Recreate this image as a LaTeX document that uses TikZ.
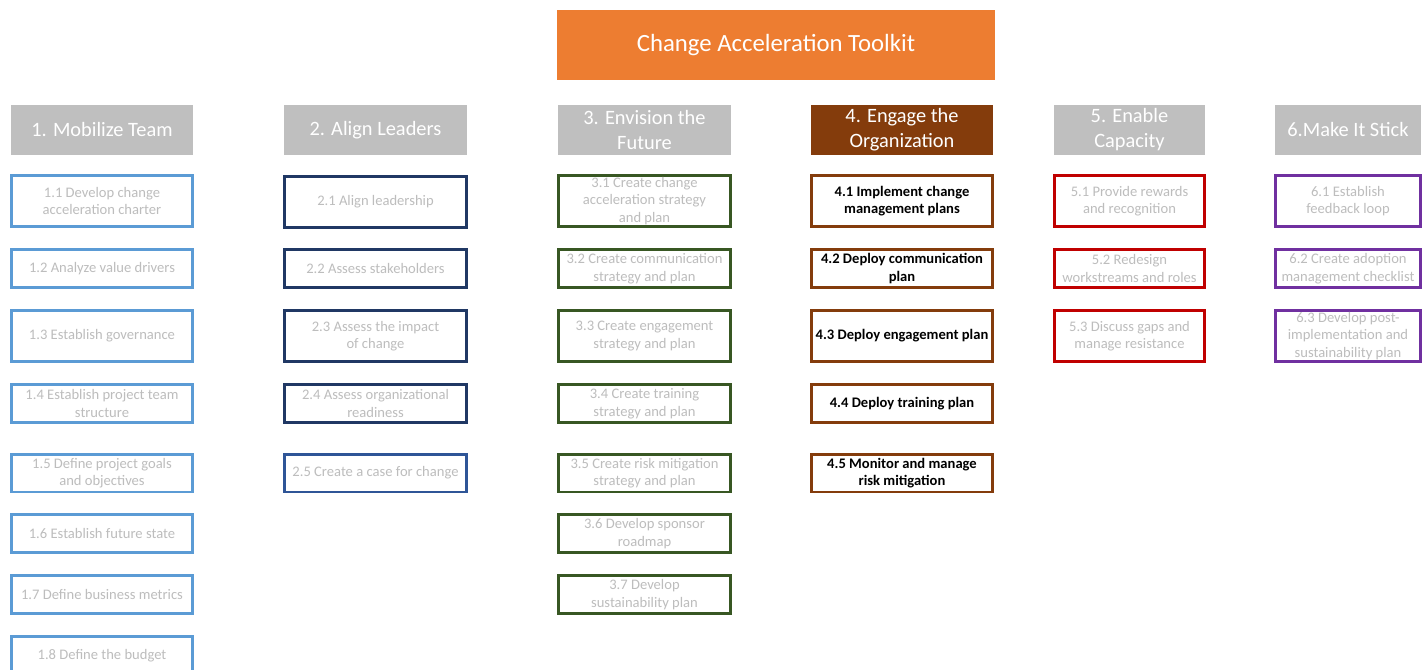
\documentclass[tikz,border=0pt]{standalone}
\usepackage{fontspec}
\setmainfont{Carlito}
\definecolor{toolorange}{HTML}{ED7D31}
\definecolor{phasegray}{HTML}{BFBFBF}
\definecolor{taskgray}{HTML}{BDBDBD}
\definecolor{engagebrown}{HTML}{843C0C}
\definecolor{mobblue}{HTML}{5B9BD5}
\definecolor{leadblue}{HTML}{203864}
\definecolor{caseblue}{HTML}{2F5597}
\definecolor{futgreen}{HTML}{385723}
\definecolor{capred}{HTML}{C00000}
\definecolor{stickviolet}{HTML}{7030A0}

\begin{document}
\begin{tikzpicture}[x=0.02cm,y=-0.02cm,
  every node/.style={align=center,inner sep=0pt},
  title/.style={fill=toolorange,text=white,font=\fontsize{14.1}{17}\selectfont,minimum width=8.76cm,minimum height=1.4cm},
  phase/.style={fill=phasegray,text=white,font=\fontsize{11.6}{14.2}\selectfont,minimum height=1cm},
  task/.style={draw,line width=1.7pt,fill=white,text=taskgray,font=\fontsize{8.3}{10}\selectfont},
  tall/.style={minimum height=1.02cm},
  short/.style={minimum height=0.76cm},
  mobtask/.style={task,draw=mobblue,minimum width=3.62cm},
  leadtask/.style={task,draw=leadblue,minimum width=3.64cm},
  futtask/.style={task,draw=futgreen,minimum width=3.44cm},
  engtask/.style={task,draw=engagebrown,text=black,font=\fontsize{8.3}{10}\selectfont\bfseries,minimum width=3.62cm},
  captask/.style={task,draw=capred,minimum width=3.00cm},
  sticktask/.style={task,draw=stickviolet,minimum width=2.90cm}]
\clip (0,0) rectangle (1428,670);

\node[title] (toolkit) at (776,45) {Change Acceleration Toolkit};

\node[phase,minimum width=3.64cm] (mobilize) at (102,130) {1. Mobilize Team};
\node[phase,minimum width=3.66cm] (align) at (375.5,130) {2. Align Leaders};
\node[phase,minimum width=3.46cm] (envision) at (644.5,130) {3. Envision the\\Future};
\node[phase,fill=engagebrown,minimum width=3.64cm] (engage) at (902,130) {4. Engage the\\Organization};
\node[phase,minimum width=3.02cm] (enable) at (1129.5,130) {5. Enable\\Capacity};
\node[phase,minimum width=2.92cm] (stick) at (1348,130) {6.Make It Stick};

\node[mobtask,tall] (t11) at (102,201) {1.1 Develop change\\acceleration charter};
\node[mobtask,short] (t12) at (102,268.5) {1.2 Analyze value drivers};
\node[mobtask,tall] (t13) at (102,336) {1.3 Establish governance};
\node[mobtask,short] (t14) at (102,403.5) {1.4 Establish project team\\structure};
\node[mobtask,short] (t15) at (102,473) {1.5 Define project goals\\and objectives};
\node[mobtask,short] (t16) at (102,533.5) {1.6 Establish future state};
\node[mobtask,short] (t17) at (102,594.5) {1.7 Define business metrics};
\node[mobtask,short] (t18) at (102,655.5) {1.8 Define the budget};

\node[leadtask,tall] (t21) at (375.5,202) {2.1 Align leadership};
\node[leadtask,short] (t22) at (375.5,268.5) {2.2 Assess stakeholders};
\node[leadtask,tall] (t23) at (375.5,336) {2.3 Assess the impact\\of change};
\node[leadtask,short] (t24) at (375.5,403.5) {2.4 Assess organizational\\readiness};
\node[leadtask,short,draw=caseblue] (t25) at (375.5,473) {2.5 Create a case for change};

\node[futtask,tall] (t31) at (644.5,201) {3.1 Create change\\acceleration strategy\\and plan};
\node[futtask,short] (t32) at (644.5,268.5) {3.2 Create communication\\strategy and plan};
\node[futtask,tall] (t33) at (644.5,336) {3.3 Create engagement\\strategy and plan};
\node[futtask,short] (t34) at (644.5,403.5) {3.4 Create training\\strategy and plan};
\node[futtask,short] (t35) at (644.5,473) {3.5 Create risk mitigation\\strategy and plan};
\node[futtask,short] (t36) at (644.5,533.5) {3.6 Develop sponsor\\roadmap};
\node[futtask,short] (t37) at (644.5,594.5) {3.7 Develop\\sustainability plan};

\node[engtask,tall] (t41) at (902,201) {4.1 Implement change\\management plans};
\node[engtask,short] (t42) at (902,268.5) {4.2 Deploy communication\\plan};
\node[engtask,tall] (t43) at (902,336) {4.3 Deploy engagement plan};
\node[engtask,short] (t44) at (902,403.5) {4.4 Deploy training plan};
\node[engtask,short] (t45) at (902,473) {4.5 Monitor and manage\\risk mitigation};

\node[captask,tall] (t51) at (1129.5,201) {5.1 Provide rewards\\and recognition};
\node[captask,short] (t52) at (1129.5,268.5) {5.2 Redesign\\workstreams and roles};
\node[captask,tall] (t53) at (1129.5,336) {5.3 Discuss gaps and\\manage resistance};

\node[sticktask,tall] (t61) at (1348,201) {6.1 Establish\\feedback loop};
\node[sticktask,short] (t62) at (1348,268.5) {6.2 Create adoption\\management checklist};
\node[sticktask,tall] (t63) at (1348,336) {6.3 Develop post-\\implementation and\\sustainability plan};
\end{tikzpicture}
\end{document}
